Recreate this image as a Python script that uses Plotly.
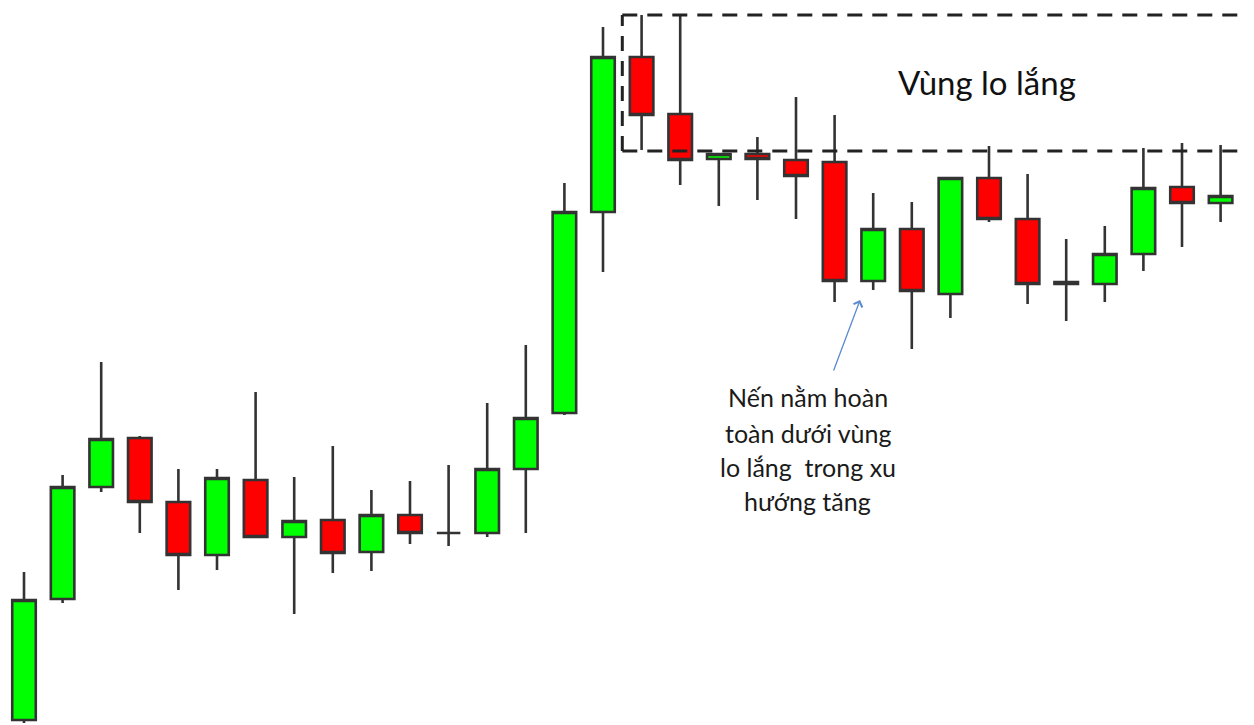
import plotly.graph_objects as go

# OHLC values (arbitrary price units)
idx = list(range(32))
opens  = [5, 126, 238, 287, 223, 170, 245, 188, 205, 173, 210, 192, 192, 256, 312, 513,
          668, 611, 566, 571, 565, 563, 444, 496, 431, 547, 506, 441, 441, 471, 538, 522]
highs  = [153, 250, 363, 289, 256, 256, 333, 248, 279, 235, 244, 260, 322, 380, 542, 698,
          710, 709, 572, 588, 628, 610, 532, 523, 547, 579, 551, 486, 499, 577, 582, 580]
lows   = [2, 122, 233, 192, 135, 155, 188, 111, 152, 154, 181, 179, 188, 192, 310, 453,
          575, 540, 519, 525, 506, 423, 435, 376, 407, 503, 421, 404, 423, 454, 478, 503]
closes = [125, 238, 286, 223, 170, 247, 188, 204, 172, 210, 192, 192, 256, 307, 513, 668,
          610, 565, 571, 566, 549, 444, 496, 434, 547, 506, 441, 443, 471, 537, 522, 529]

zone_top = 710
zone_bottom = 574
zone_start = 15.5

zone_label = "Vùng lo lắng"
note_lines = ["Nến nằm hoàn", "toàn dưới vùng", "lo lắng  trong xu", "hướng tăng"]

FONT = "Lato, Open Sans, sans-serif"

fig = go.Figure()
fig.add_trace(go.Candlestick(
    x=idx, open=opens, high=highs, low=lows, close=closes,
    increasing=dict(line=dict(color="#333333", width=2.6), fillcolor="#00ff00"),
    decreasing=dict(line=dict(color="#333333", width=2.6), fillcolor="#ff0000"),
    whiskerwidth=0, showlegend=False, hoverinfo="skip",
))

dash = "15px,10px"
line_style = dict(color="#222222", width=3, dash=dash)
fig.add_shape(type="line", x0=zone_start, x1=40, y0=zone_top, y1=zone_top,
              xref="x", yref="y", line=line_style)
fig.add_shape(type="line", x0=zone_start, x1=40, y0=zone_bottom, y1=zone_bottom,
              xref="x", yref="y", line=line_style)
fig.add_shape(type="line", x0=zone_start, x1=zone_start, y0=zone_bottom, y1=zone_top,
              xref="x", yref="y", line=line_style)

fig.add_annotation(x=24.95, y=643, text=zone_label, showarrow=False,
                   font=dict(family=FONT, size=33, color="#111111"))

note_y = [328, 292, 258, 224]
for t, yy in zip(note_lines, note_y):
    fig.add_annotation(x=20.31, y=yy, text=t, showarrow=False,
                       font=dict(family=FONT, size=25, color="#1a1a1a"))

fig.add_annotation(x=21.66, y=425, ax=20.96, ay=353, axref="x", ayref="y",
                   xref="x", yref="y", text="", showarrow=True,
                   arrowhead=4, arrowsize=1.4, arrowwidth=1.3, arrowcolor="#5b8bd0")

# page body adds an 8px offset; the figure is sized/ranged so candles land
# at the same page pixels as in the reference
fig.update_layout(
    width=1246, height=717,
    margin=dict(l=0, r=0, t=0, b=0),
    paper_bgcolor="white", plot_bgcolor="white",
    boxgap=0.39, boxgroupgap=0,
    xaxis=dict(range=[-0.4145, -0.4145 + 1246 / 38.6], visible=False,
               rangeslider=dict(visible=False), fixedrange=True),
    yaxis=dict(range=[0, 717], visible=False, fixedrange=True),
    showlegend=False,
)

fig.write_html("out.html")
